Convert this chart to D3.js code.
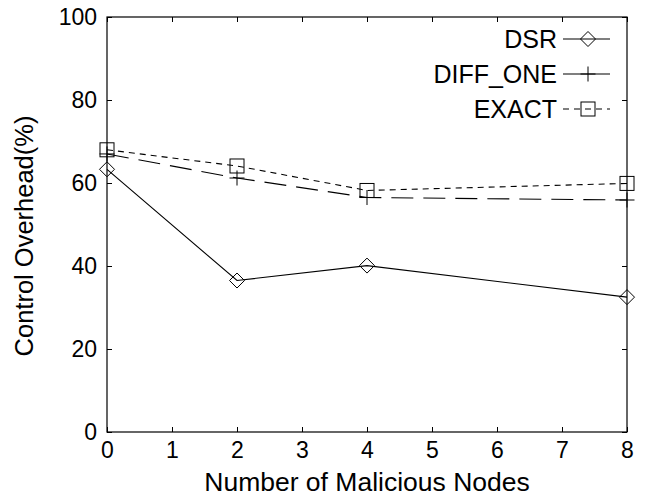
<!DOCTYPE html>
<html>
<head>
<meta charset="utf-8">
<script src="https://cdn.jsdelivr.net/npm/d3@7"></script>
<style>
  body { margin: 0; background: #fff; }
  text { font-family: "Liberation Sans", Arial, sans-serif; fill: #000; }
</style>
</head>
<body>
<div id="chart"></div>
<script>
// data
var nodes = [0, 2, 4, 8];
var dsr = [63.3, 36.5, 40.1, 32.5];
var diffOne = [67.0, 61.2, 56.5, 55.9];
var exact = [68.0, 64.1, 58.2, 59.9];
var xTicks = [0, 1, 2, 3, 4, 5, 6, 7, 8];
var yTicks = [0, 20, 40, 60, 80, 100];

var svgWidth = 647, svgHeight = 496;
var margin = { top: 17, right: 20, bottom: 64, left: 107 };
var width = 627 - margin.left;
var height = 432 - margin.top;

var svg = d3.select("#chart").append("svg")
  .attr("width", svgWidth)
  .attr("height", svgHeight);

var chartGroup = svg.append("g")
  .attr("transform", `translate(${margin.left}, ${margin.top})`);

var xScale = d3.scaleLinear().domain([0, 8]).range([0, width]);
var yScale = d3.scaleLinear().domain([0, 100]).range([height, 0]);

// frame
chartGroup.append("rect")
  .attr("width", width).attr("height", height)
  .attr("fill", "none").attr("stroke", "#000").attr("stroke-width", 1.2);

// ticks pointing inward, mirrored on all sides
var tickLen = 5;
function styleAxis(g) {
  g.select(".domain").remove();
  g.selectAll(".tick line").attr("stroke", "#000");
  g.selectAll(".tick text").attr("font-size", 23)
    .style("font-family", "Liberation Sans, Arial, sans-serif");
}

chartGroup.append("g")
  .attr("transform", `translate(0, ${height})`)
  .call(d3.axisBottom(xScale).tickValues(xTicks).tickSizeInner(-tickLen).tickPadding(10).tickFormat(d3.format("d")))
  .call(styleAxis);

chartGroup.append("g")
  .call(d3.axisTop(xScale).tickValues(xTicks).tickSizeInner(-tickLen).tickFormat(""))
  .call(styleAxis);

chartGroup.append("g")
  .call(d3.axisLeft(yScale).tickValues(yTicks).tickSizeInner(-tickLen).tickPadding(10).tickFormat(d3.format("d")))
  .call(styleAxis);

chartGroup.append("g")
  .attr("transform", `translate(${width}, 0)`)
  .call(d3.axisRight(yScale).tickValues(yTicks).tickSizeInner(-tickLen).tickFormat(""))
  .call(styleAxis);

// axis titles
svg.append("text")
  .attr("x", 367)
  .attr("y", 491)
  .attr("text-anchor", "middle")
  .attr("font-size", 26.5)
  .text("Number of Malicious Nodes");

svg.append("text")
  .attr("transform", "translate(33, 236) rotate(-90)")
  .attr("text-anchor", "middle")
  .attr("font-size", 25.5)
  .text("Control Overhead(%)");

// series
var series = [
  { name: "DSR", values: dsr, dash: null, marker: "diamond" },
  { name: "DIFF_ONE", values: diffOne, dash: "22,10", marker: "plus" },
  { name: "EXACT", values: exact, dash: "6,5", marker: "square" }
];

var line = d3.line()
  .x((d, i) => xScale(nodes[i]))
  .y(d => yScale(d));

function drawMarker(g, type, x, y) {
  if (type === "diamond") {
    g.append("path")
      .attr("d", `M${x},${y - 7.5}L${x + 7.5},${y}L${x},${y + 7.5}L${x - 7.5},${y}Z`)
      .attr("fill", "none").attr("stroke", "#000").attr("stroke-width", 1);
  } else if (type === "plus") {
    g.append("path")
      .attr("d", `M${x - 7.5},${y}H${x + 7.5}M${x},${y - 7.5}V${y + 7.5}`)
      .attr("stroke", "#000").attr("stroke-width", 1);
  } else {
    g.append("rect")
      .attr("x", x - 7).attr("y", y - 7).attr("width", 14).attr("height", 14)
      .attr("fill", "none").attr("stroke", "#000").attr("stroke-width", 1);
  }
}

series.forEach(function(s) {
  chartGroup.append("path")
    .datum(s.values)
    .attr("d", line)
    .attr("fill", "none")
    .attr("stroke", "#000")
    .attr("stroke-width", 1.1)
    .attr("stroke-dasharray", s.dash);

  s.values.forEach(function(v, i) {
    drawMarker(chartGroup, s.marker, xScale(nodes[i]), yScale(v));
  });
});

// legend
var legend = svg.append("g");
series.forEach(function(s, i) {
  var ly = 39 + i * 35;
  legend.append("text")
    .attr("x", 557).attr("y", ly + 9)
    .attr("text-anchor", "end")
    .attr("font-size", 25)
    .text(s.name);
  legend.append("line")
    .attr("x1", 563).attr("x2", 610)
    .attr("y1", ly).attr("y2", ly)
    .attr("stroke", "#000").attr("stroke-width", 1.1)
    .attr("stroke-dasharray", s.dash === "6,5" ? "6,5" : null);
  drawMarker(legend, s.marker, 588, ly);
});
</script>
</body>
</html>
